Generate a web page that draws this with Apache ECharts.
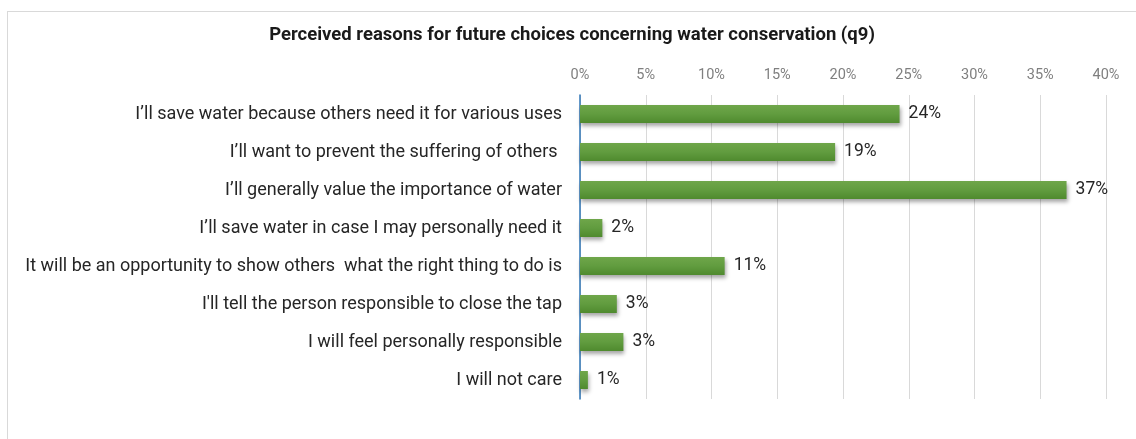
<!DOCTYPE html>
<html>
<head>
<meta charset="utf-8">
<script src="https://cdn.jsdelivr.net/npm/echarts@6/dist/echarts.min.js"></script>
<style>
  html, body { margin: 0; padding: 0; background: #fff; }
  #frame { position: absolute; left: 7px; top: 11px; width: 1200px; height: 500px; border: 1px solid #d9d9d9; box-sizing: border-box; }
  #chart { position: absolute; left: 0; top: 0; width: 1136px; height: 439px; }
</style>
</head>
<body>
<div id="frame"></div>
<div id="chart"></div>
<script>
const categories = [
  "I\u2019ll save water because others need it for various uses",
  "I\u2019ll want to prevent the suffering of others ",
  "I\u2019ll generally value the importance of water",
  "I\u2019ll save water in case I may personally need it",
  "It will be an opportunity to show others  what the right thing to do is",
  "I'll tell the person responsible to close the tap",
  "I will feel personally responsible",
  "I will not care"
];
const shares = [24.3, 19.4, 37.0, 1.7, 11.0, 2.8, 3.3, 0.6];
const chartTitle = "Perceived reasons for future choices concerning water conservation (q9)";

const chart = echarts.init(document.getElementById('chart'), null, { renderer: 'canvas' });
chart.setOption({
  animation: false,
  backgroundColor: 'transparent',
  title: {
    text: chartTitle,
    left: 567,
    textAlign: 'center',
    top: 21,
    textStyle: { fontFamily: 'Roboto', fontWeight: 'bold', fontSize: 18.5, color: '#1a1a1a' }
  },
  grid: { left: 580, right: 30, top: 95, bottom: 40, containLabel: false },
  xAxis: {
    type: 'value',
    position: 'top',
    min: 0, max: 40, interval: 5,
    axisLine: { show: false },
    axisTick: { show: false },
    splitLine: { lineStyle: { color: '#d9d9d9', width: 1 } },
    axisLabel: {
      formatter: v => v + '%',
      color: '#7f7f7f', fontFamily: 'Roboto', fontSize: 14.5, margin: 12
    }
  },
  yAxis: {
    type: 'category',
    inverse: true,
    data: categories,
    axisLine: { show: true, lineStyle: { color: '#2e75b6', width: 1.5 } },
    axisTick: { show: false },
    axisLabel: { color: '#262626', fontFamily: 'Roboto', fontSize: 18, margin: 18 }
  },
  series: [{
    type: 'bar',
    data: shares,
    barWidth: 18,
    itemStyle: {
      color: new echarts.graphic.LinearGradient(0, 0, 0, 1, [
        { offset: 0, color: '#6fa64a' },
        { offset: 0.5, color: '#619c3f' },
        { offset: 1, color: '#4f8a2e' }
      ]),
      shadowColor: 'rgba(0,0,0,0.35)',
      shadowBlur: 4,
      shadowOffsetX: 1,
      shadowOffsetY: 3
    },
    label: {
      show: true,
      position: 'right',
      distance: 9,
      formatter: p => Math.round(p.value) + '%',
      color: '#262626', fontFamily: 'Roboto', fontSize: 17.5
    }
  }]
});
</script>
</body>
</html>
